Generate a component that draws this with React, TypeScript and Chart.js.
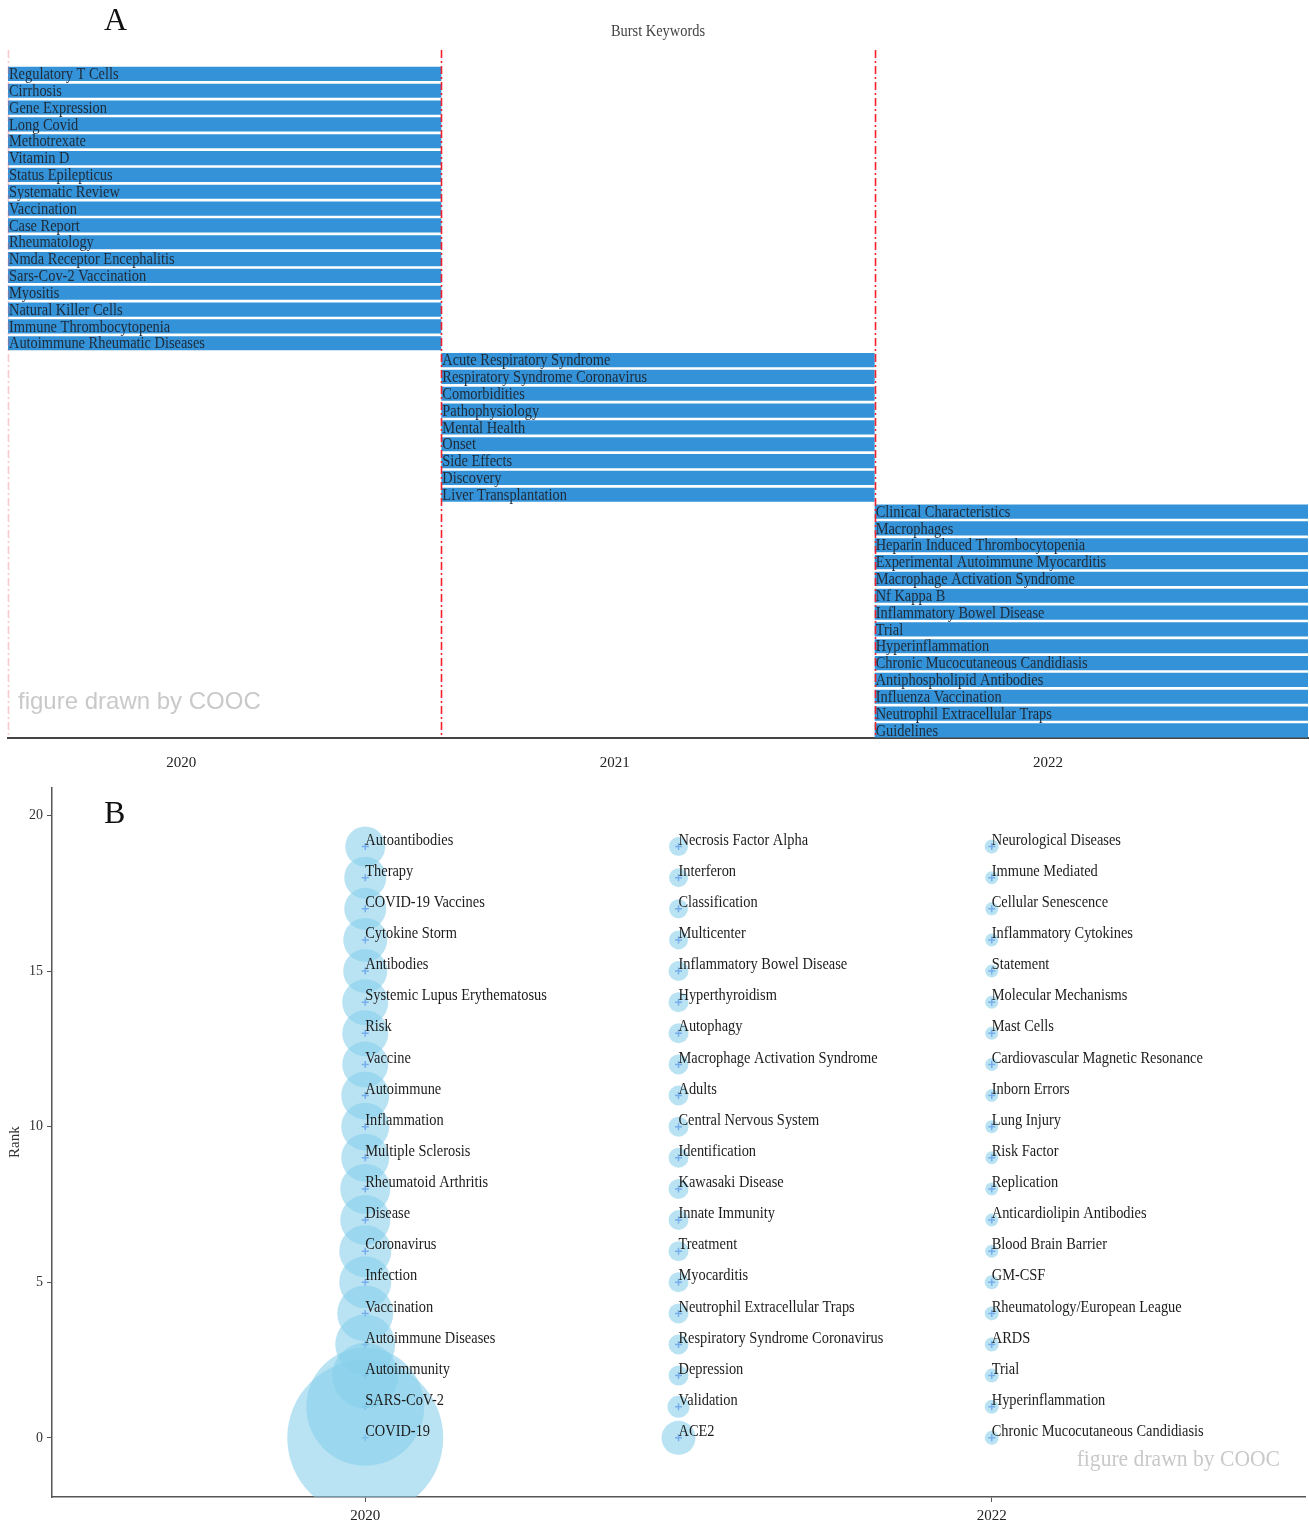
import React, { useEffect, useRef } from 'react';
import { Chart, registerables } from 'chart.js';

Chart.register(...registerables);

// ---------- Panel A data: burst keywords by burst year ----------
const burstYears = [2020, 2021, 2022];
const burst2020 = [
  'Regulatory T Cells', 'Cirrhosis', 'Gene Expression', 'Long Covid', 'Methotrexate',
  'Vitamin D', 'Status Epilepticus', 'Systematic Review', 'Vaccination', 'Case Report',
  'Rheumatology', 'Nmda Receptor Encephalitis', 'Sars-Cov-2 Vaccination', 'Myositis',
  'Natural Killer Cells', 'Immune Thrombocytopenia', 'Autoimmune Rheumatic Diseases',
];
const burst2021 = [
  'Acute Respiratory Syndrome', 'Respiratory Syndrome Coronavirus', 'Comorbidities',
  'Pathophysiology', 'Mental Health', 'Onset', 'Side Effects', 'Discovery', 'Liver Transplantation',
];
const burst2022 = [
  'Clinical Characteristics', 'Macrophages', 'Heparin Induced Thrombocytopenia',
  'Experimental Autoimmune Myocarditis', 'Macrophage Activation Syndrome', 'Nf Kappa B',
  'Inflammatory Bowel Disease', 'Trial', 'Hyperinflammation', 'Chronic Mucocutaneous Candidiasis',
  'Antiphospholipid Antibodies', 'Influenza Vaccination', 'Neutrophil Extracellular Traps', 'Guidelines',
];
const xTicksA = [2020, 2021, 2022];
// each burst bar spans from (year + start) to (year + end) on the time axis
const burstSpanStart = -0.4;
const burstSpanEnd = 0.6;

// ---------- Panel B data: top keywords per year (rank 0 = bottom) ----------
const ranks = [0, 1, 2, 3, 4, 5, 6, 7, 8, 9, 10, 11, 12, 13, 14, 15, 16, 17, 18, 19];
const topics2020 = [
  'COVID-19', 'SARS-CoV-2', 'Autoimmunity', 'Autoimmune Diseases', 'Vaccination', 'Infection',
  'Coronavirus', 'Disease', 'Rheumatoid Arthritis', 'Multiple Sclerosis', 'Inflammation',
  'Autoimmune', 'Vaccine', 'Risk', 'Systemic Lupus Erythematosus', 'Antibodies',
  'Cytokine Storm', 'COVID-19 Vaccines', 'Therapy', 'Autoantibodies',
];
const size2020 = [78, 59, 33, 30, 28, 26, 26, 25, 25, 24, 24, 24, 23, 23, 23, 22, 22, 21, 21, 20];
const topics2021 = [
  'ACE2', 'Validation', 'Depression', 'Respiratory Syndrome Coronavirus',
  'Neutrophil Extracellular Traps', 'Myocarditis', 'Treatment', 'Innate Immunity',
  'Kawasaki Disease', 'Identification', 'Central Nervous System', 'Adults',
  'Macrophage Activation Syndrome', 'Autophagy', 'Hyperthyroidism', 'Inflammatory Bowel Disease',
  'Multicenter', 'Classification', 'Interferon', 'Necrosis Factor Alpha',
];
const size2021 = [17, 11, 10, 10, 10, 10, 10, 10, 10, 10, 10, 10, 10, 10, 10, 10, 9.5, 9.5, 9.5, 9.5];
const topics2022 = [
  'Chronic Mucocutaneous Candidiasis', 'Hyperinflammation', 'Trial', 'ARDS',
  'Rheumatology/European League', 'GM-CSF', 'Blood Brain Barrier', 'Anticardiolipin Antibodies',
  'Replication', 'Risk Factor', 'Lung Injury', 'Inborn Errors', 'Cardiovascular Magnetic Resonance',
  'Mast Cells', 'Molecular Mechanisms', 'Statement', 'Inflammatory Cytokines',
  'Cellular Senescence', 'Immune Mediated', 'Neurological Diseases',
];
const size2022 = [7, 7, 7, 7, 7, 7, 6.5, 6.5, 6.5, 6.5, 6.5, 6.5, 6.5, 6.5, 6.5, 6.5, 6.5, 6.5, 6.5, 7];
const xTicksB = [2020, 2022];
const yTicksB = [0, 5, 10, 15, 20];

const SERIF = '"Liberation Serif", "Times New Roman", serif';

function squishText(ctx: CanvasRenderingContext2D, text: string, x: number, y: number, sx: number) {
  ctx.save();
  ctx.translate(x, y);
  ctx.scale(sx, 1);
  ctx.fillText(text, 0, 0);
  ctx.restore();
}

export default function App() {
  const refA = useRef<HTMLCanvasElement | null>(null);
  const refB = useRef<HTMLCanvasElement | null>(null);

  useEffect(() => {
    // ---------------- Panel A ----------------
    const groups = [burst2020, burst2021, burst2022];
    const allKeywords: string[] = [];
    const barData: { x: number[]; y: number }[] = [];
    groups.forEach((g, gi) => {
      g.forEach((kw) => {
        const idx = allKeywords.length;
        allKeywords.push(kw);
        barData.push({ x: [burstYears[gi] + burstSpanStart, burstYears[gi] + burstSpanEnd], y: idx });
      });
    });

    const decorA = {
      id: 'decorA',
      afterDatasetsDraw(chart: any) {
        const { ctx, chartArea, scales } = chart;
        const xs = scales.x;
        const ys = scales.y;
        ctx.save();
        // keyword labels
        ctx.font = `16px ${SERIF}`;
        ctx.fillStyle = '#1e2a38';
        ctx.textBaseline = 'middle';
        ctx.textAlign = 'left';
        barData.forEach((d, i) => {
          const x0 = xs.getPixelForValue(d.x[0]);
          const y = ys.getPixelForValue(d.y);
          squishText(ctx, allKeywords[i], x0 + 1, y + 1, 0.9);
        });
        // dividers
        const drawDiv = (v: number, color: string) => {
          const px = Math.round(xs.getPixelForValue(v)) + 0.5;
          ctx.beginPath();
          ctx.setLineDash([8, 3, 2, 3]);
          ctx.strokeStyle = color;
          ctx.lineWidth = 1.6;
          ctx.moveTo(px, chartArea.top);
          ctx.lineTo(px, chartArea.bottom);
          ctx.stroke();
        };
        drawDiv(burstYears[0] + burstSpanStart, 'rgba(240,80,90,0.3)');
        drawDiv(burstYears[0] + burstSpanEnd, '#f0222c');
        drawDiv(burstYears[1] + burstSpanEnd, '#f0222c');
        ctx.setLineDash([]);
        // title
        ctx.fillStyle = '#444';
        ctx.font = `16px ${SERIF}`;
        ctx.textAlign = 'center';
        squishText(ctx, 'Burst Keywords', (chartArea.left + chartArea.right) / 2, 32, 0.9);
        // panel letter
        ctx.fillStyle = '#111';
        ctx.textAlign = 'left';
        ctx.font = `32px ${SERIF}`;
        ctx.fillText('A', 104, 22);
        // watermark
        ctx.fillStyle = '#c9c9c9';
        ctx.font = `24px "Liberation Sans", Arial, sans-serif`;
        ctx.fillText('figure drawn by COOC', 18, 702);
        ctx.restore();
      },
    };

    const chartA = new Chart(refA.current as HTMLCanvasElement, {
      type: 'bar',
      data: {
        datasets: [
          {
            data: barData as any,
            backgroundColor: '#3493d8',
            borderWidth: 0,
            barPercentage: 0.84,
            categoryPercentage: 1,
          },
        ],
      },
      options: {
        indexAxis: 'y',
        responsive: false,
        animation: false,
        layout: { autoPadding: false, padding: { left: 8, right: 1, top: 50, bottom: 0 } },
        plugins: { legend: { display: false }, tooltip: { enabled: false }, title: { display: false } },
        scales: {
          x: {
            type: 'linear',
            offset: false,
            min: burstYears[0] + burstSpanStart,
            max: burstYears[2] + burstSpanEnd,
            afterBuildTicks: (scale: any) => {
              scale.ticks = xTicksA.map((v) => ({ value: v }));
            },
            afterFit: (scale: any) => {
              scale.height = 37;
            },
            grid: { display: false, drawTicks: false },
            border: { display: true, color: '#454545', width: 2 },
            ticks: {
              font: { family: SERIF, size: 15 },
              color: '#222',
              padding: 16,
              maxRotation: 0,
              callback: (v: any) => String(v),
            },
          },
          y: {
            type: 'linear',
            offset: false,
            reverse: true,
            min: -1.42,
            max: 39.45,
            display: false,
          },
        },
      } as any,
      plugins: [decorA],
    });

    // ---------------- Panel B ----------------
    const columns = [
      { year: 2020, topics: topics2020, sizes: size2020 },
      { year: 2021, topics: topics2021, sizes: size2021 },
      { year: 2022, topics: topics2022, sizes: size2022 },
    ];
    const bubbleData: { x: number; y: number; r: number }[] = [];
    const labelData: { x: number; y: number; t: string }[] = [];
    columns.forEach((c) => {
      c.topics.forEach((t, i) => {
        bubbleData.push({ x: c.year, y: ranks[i], r: c.sizes[i] });
        labelData.push({ x: c.year, y: ranks[i], t });
      });
    });

    const decorB = {
      id: 'decorB',
      afterDatasetsDraw(chart: any) {
        const { ctx, scales } = chart;
        const xs = scales.x;
        const ys = scales.y;
        ctx.save();
        ctx.font = `16px ${SERIF}`;
        ctx.fillStyle = '#1c1c1c';
        ctx.textBaseline = 'middle';
        ctx.textAlign = 'left';
        labelData.forEach((d) => {
          squishText(ctx, d.t, xs.getPixelForValue(d.x), ys.getPixelForValue(d.y) - 6, 0.9);
        });
        ctx.fillStyle = '#111';
        ctx.font = `32px ${SERIF}`;
        ctx.textAlign = 'left';
        ctx.fillText('B', 104, 40);
        ctx.fillStyle = '#c9c9c9';
        ctx.font = `24px ${SERIF}`;
        ctx.textAlign = 'right';
        squishText(ctx, 'figure drawn by COOC', 1280, 685, 0.9);
        ctx.restore();
      },
    };

    const chartB = new Chart(refB.current as HTMLCanvasElement, {
      type: 'bubble',
      data: {
        datasets: [
          {
            data: bubbleData,
            backgroundColor: 'rgba(135,206,235,0.58)',
            borderWidth: 0,
            clip: 0,
          } as any,
          {
            type: 'scatter',
            data: bubbleData.map((d) => ({ x: d.x, y: d.y })),
            pointStyle: 'cross',
            radius: 3.5,
            borderColor: 'rgba(80,115,240,0.9)',
            borderWidth: 1.5,
            backgroundColor: 'rgba(80,115,240,0.9)',
          } as any,
        ],
      },
      options: {
        responsive: false,
        animation: false,
        layout: { autoPadding: false, padding: { left: 0, right: 4, top: 10, bottom: 0 } },
        plugins: { legend: { display: false }, tooltip: { enabled: false } },
        scales: {
          x: {
            type: 'linear',
            offset: false,
            min: 2019,
            max: 2023,
            afterBuildTicks: (scale: any) => {
              scale.ticks = xTicksB.map((v) => ({ value: v }));
            },
            afterFit: (scale: any) => {
              scale.height = 30;
            },
            grid: { display: true, drawOnChartArea: false, drawTicks: true, tickLength: 5, color: '#555', lineWidth: 1 },
            border: { display: true, color: '#555', width: 1.5 },
            ticks: {
              font: { family: SERIF, size: 15 },
              color: '#222',
              padding: 5,
              maxRotation: 0,
              callback: (v: any) => String(v),
            },
          },
          y: {
            type: 'linear',
            offset: false,
            min: -1.9,
            max: 20.9,
            afterBuildTicks: (scale: any) => {
              scale.ticks = yTicksB.map((v) => ({ value: v }));
            },
            afterFit: (scale: any) => {
              scale.width = 52;
            },
            grid: { display: true, drawOnChartArea: false, drawTicks: true, tickLength: 5, color: '#555', lineWidth: 1 },
            border: { display: true, color: '#555', width: 1.5 },
            ticks: {
              font: { family: SERIF, size: 14 },
              color: '#333',
              padding: 4,
              callback: (v: any) => String(v),
            },
            title: {
              display: true,
              text: 'Rank',
              font: { family: SERIF, size: 15 },
              color: '#333',
              padding: { top: 6, bottom: 0 },
            },
          },
        },
      } as any,
      plugins: [decorB],
    });

    return () => {
      chartA.destroy();
      chartB.destroy();
    };
  }, []);

  return (
    <div style={{ position: 'absolute', left: 0, top: 0, width: 1309, height: 1527, background: '#fff' }}>
      <canvas ref={refA} width={1309} height={775} style={{ position: 'absolute', left: 0, top: 0, display: 'block' }} />
      <canvas ref={refB} width={1309} height={752} style={{ position: 'absolute', left: 0, top: 775, display: 'block' }} />
    </div>
  );
}
